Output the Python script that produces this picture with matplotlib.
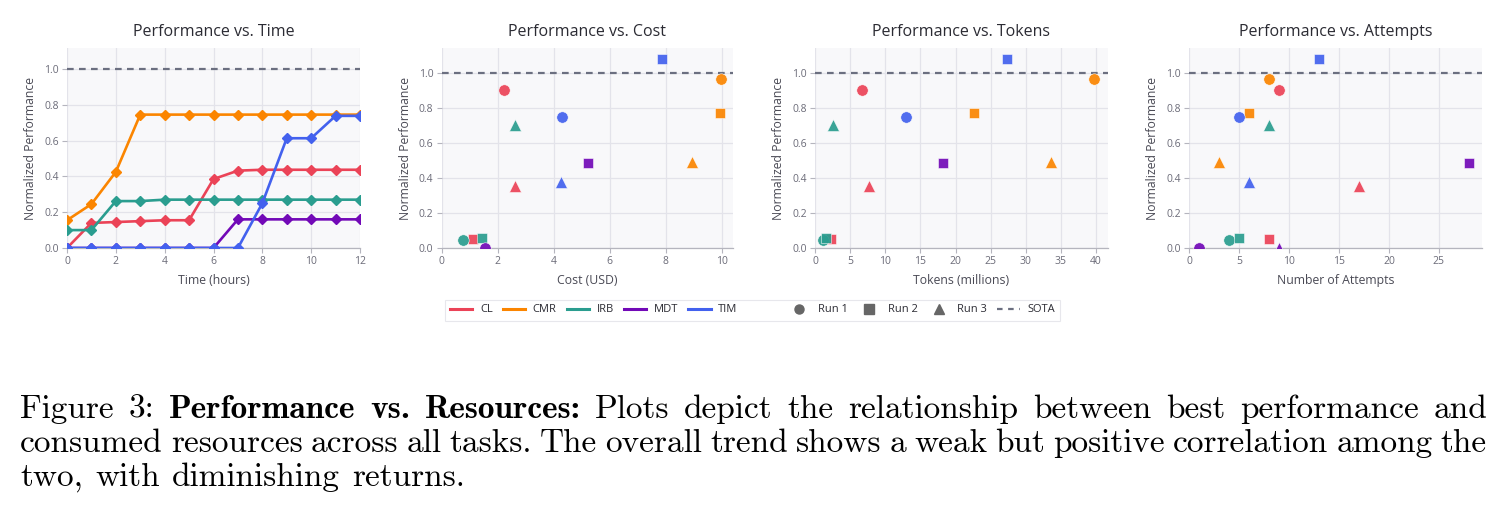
import numpy as np
import matplotlib
matplotlib.use('Agg')
import matplotlib.pyplot as plt
from matplotlib.lines import Line2D

# ---------------- data ----------------
models = ['CL', 'CMR', 'IRB', 'MDT', 'TIM']
model_colors = ['#EB4357', '#FB8500', '#2A9D8F', '#7209B7', '#4361EE']
run_labels = ['Run 1', 'Run 2', 'Run 3']
run_markers = ['o', 's', '^']

hours = [0, 1, 2, 3, 4, 5, 6, 7, 8, 9, 10, 11, 12]
time_CL = [0.00, 0.14, 0.145, 0.15, 0.155, 0.155, 0.385, 0.432, 0.437, 0.437, 0.437, 0.437, 0.437]
time_CMR = [0.155, 0.245, 0.425, 0.745, 0.745, 0.745, 0.745, 0.745, 0.745, 0.745, 0.745, 0.745, 0.745]
time_IRB = [0.10, 0.10, 0.262, 0.262, 0.27, 0.27, 0.27, 0.27, 0.27, 0.27, 0.27, 0.27, 0.27]
time_MDT = [0.0, 0.0, 0.0, 0.0, 0.0, 0.0, 0.0, 0.16, 0.16, 0.16, 0.16, 0.16, 0.16]
time_TIM = [0.0, 0.0, 0.0, 0.0, 0.0, 0.0, 0.0, 0.0, 0.25, 0.613, 0.613, 0.738, 0.738]

# best performance per run (Run 1, Run 2, Run 3)
perf_CL = [0.903, 0.050, 0.352]
perf_CMR = [0.966, 0.773, 0.490]
perf_IRB = [0.048, 0.055, 0.705]
perf_MDT = [0.000, 0.484, 0.000]
perf_TIM = [0.747, 1.080, 0.377]

cost_CL = [2.23, 1.11, 2.61]
cost_CMR = [9.98, 9.95, 8.93]
cost_IRB = [0.77, 1.43, 2.61]
cost_MDT = [1.54, 5.23, np.nan]
cost_TIM = [4.29, 7.87, 4.26]

tokens_CL = [6.64, 2.28, 7.64]
tokens_CMR = [39.7, 22.68, 33.54]
tokens_IRB = [1.09, 1.57, 2.51]
tokens_MDT = [np.nan, 18.17, np.nan]
tokens_TIM = [13.0, 27.28, np.nan]

attempts_CL = [9, 8, 17]
attempts_CMR = [8, 6, 3]
attempts_IRB = [4, 5, 8]
attempts_MDT = [1, 28, 9]
attempts_TIM = [5, 13, 6]

sota = 1.0

time_series = [time_CL, time_CMR, time_IRB, time_MDT, time_TIM]
perfs = [perf_CL, perf_CMR, perf_IRB, perf_MDT, perf_TIM]
costs = [cost_CL, cost_CMR, cost_IRB, cost_MDT, cost_TIM]
tokens = [tokens_CL, tokens_CMR, tokens_IRB, tokens_MDT, tokens_TIM]
attempts = [attempts_CL, attempts_CMR, attempts_IRB, attempts_MDT, attempts_TIM]

# ---------------- style ----------------
FONT = ['Open Sans', 'DejaVu Sans']
plt.rcParams['font.family'] = FONT
W, H = 1505, 525
fig = plt.figure(figsize=(W / 100, H / 100), dpi=100)
fig.patch.set_facecolor('white')

def add_ax(left, right, top=48, bottom=248):
    return fig.add_axes([left / W, 1 - bottom / H, (right - left) / W, (bottom - top) / H])

def style(ax, title, xlabel, xticks, xlim, ylim):
    ax.set_facecolor('#f8f8fa')
    ax.grid(True, color='#e3e3ea', lw=0.9)
    ax.set_axisbelow(True)
    for s in ['top', 'right', 'left']:
        ax.spines[s].set_visible(False)
    ax.spines['bottom'].set_color('#b5b5be')
    ax.spines['bottom'].set_linewidth(0.9)
    ax.tick_params(colors='#b5b5be', labelcolor='#6b6b78', labelsize=7.5, length=3.5, width=0.8, pad=2.5)
    ax.set_xticks(xticks)
    ax.set_yticks([0, 0.2, 0.4, 0.6, 0.8, 1.0])
    ax.set_yticklabels(['0.0', '0.2', '0.4', '0.6', '0.8', '1.0'])
    ax.set_xlim(*xlim)
    ax.set_ylim(*ylim)
    ax.set_title(title, fontsize=11.5, color='#2b2b33', pad=9)
    ax.set_xlabel(xlabel, fontsize=8.8, color='#4a4a55', labelpad=5)
    ax.set_ylabel('Normalized Performance', fontsize=8.8, color='#4a4a55', labelpad=5)
    ax.axhline(sota, color='#6b6f80', ls=(0, (3, 2.4)), lw=1.6, zorder=1.5)

# time plot
ax1 = add_ax(67, 360)
style(ax1, 'Performance vs. Time', 'Time (hours)', [0, 2, 4, 6, 8, 10, 12], (0, 12), (0, 1.117))
for ys, c in zip(time_series, model_colors):
    ax1.plot(hours, ys, color=c, lw=1.9, marker='D', markersize=4.6, zorder=3)

def scatter_panel(ax, xs_all):
    for xs, ps, c in zip(xs_all, perfs, model_colors):
        for x, p, m in zip(xs, ps, run_markers):
            if np.isnan(x):
                continue
            ax.plot([x], [p], marker=m, color=c, markersize=8.2 if m != 's' else 7.6,
                    markeredgecolor='white', markeredgewidth=0.4, alpha=0.92, ls='none', zorder=3)

ax2 = add_ax(441.7, 733)
style(ax2, 'Performance vs. Cost', 'Cost (USD)', [0, 2, 4, 6, 8, 10], (0, 10.41), (0, 1.143))
scatter_panel(ax2, costs)

ax3 = add_ax(815, 1107.7)
style(ax3, 'Performance vs. Tokens', 'Tokens (millions)', [0, 5, 10, 15, 20, 25, 30, 35, 40], (0, 41.65), (0, 1.143))
scatter_panel(ax3, tokens)

ax4 = add_ax(1189.3, 1481.7)
style(ax4, 'Performance vs. Attempts', 'Number of Attempts', [0, 5, 10, 15, 20, 25], (0, 29.3), (0, 1.143))
scatter_panel(ax4, attempts)

# ---------------- legend ----------------
handles = [Line2D([], [], color=c, lw=2.2) for c in model_colors]
labels = list(models)
handles.append(Line2D([], [], color='none'))
labels.append('')
for m in run_markers:
    handles.append(Line2D([], [], color='#666666', marker=m, ls='none', markersize=6.5))
labels += run_labels
handles.append(Line2D([], [], color='#6b6f80', ls=(0, (2.5, 2.5)), lw=1.6))
labels.append('SOTA')
leg = fig.legend(handles, labels, loc='center', bbox_to_anchor=(0.5, 1 - 310 / H), ncol=len(labels),
                 fontsize=8, frameon=True, fancybox=False, edgecolor='#e2e2e8', handlelength=2.0,
                 handletextpad=0.7, columnspacing=0.9, borderpad=0.45, labelcolor='#2b2b33')
leg.get_frame().set_linewidth(0.8)

# ---------------- caption ----------------
caption_lines = [
    [("Figure", 0), ("3:", 0), ("Performance", 1), ("vs.", 1), ("Resources:", 1), ("Plots", 0), ("depict", 0),
     ("the", 0), ("relationship", 0), ("between", 0), ("best", 0), ("performance", 0), ("and", 0)],
    [(w, 0) for w in "consumed resources across all tasks. The overall trend shows a weak but positive correlation among the".split()],
    [(w, 0) for w in "two, with diminishing returns.".split()],
]
cap_fs = 24
x_left, x_right = 20, 1487
baselines = [418, 452, 486]
renderer = fig.canvas.get_renderer()

def make_text(word, bold=0, x=0.0, y=0.0):
    return fig.text(x / W, 1 - y / H, word, fontsize=cap_fs, family='cmb10' if bold else 'cmr10',
                    va='baseline', ha='left', color='black')

t_sp = make_text('a b')
t_nosp = make_text('ab')
sp_w = t_sp.get_window_extent(renderer).width - t_nosp.get_window_extent(renderer).width
t_sp.remove()
t_nosp.remove()

for li, (line, yb) in enumerate(zip(caption_lines, baselines)):
    texts = [make_text(w, b, 0, yb) for w, b in line]
    widths = [t.get_window_extent(renderer).width for t in texts]
    if li < len(caption_lines) - 1:
        gap = (x_right - x_left - sum(widths)) / (len(widths) - 1)
    else:
        gap = sp_w * 1.1
    x = x_left
    for t, w in zip(texts, widths):
        t.set_x(x / W)
        x += w + gap

fig.savefig('out.png', dpi=100)
